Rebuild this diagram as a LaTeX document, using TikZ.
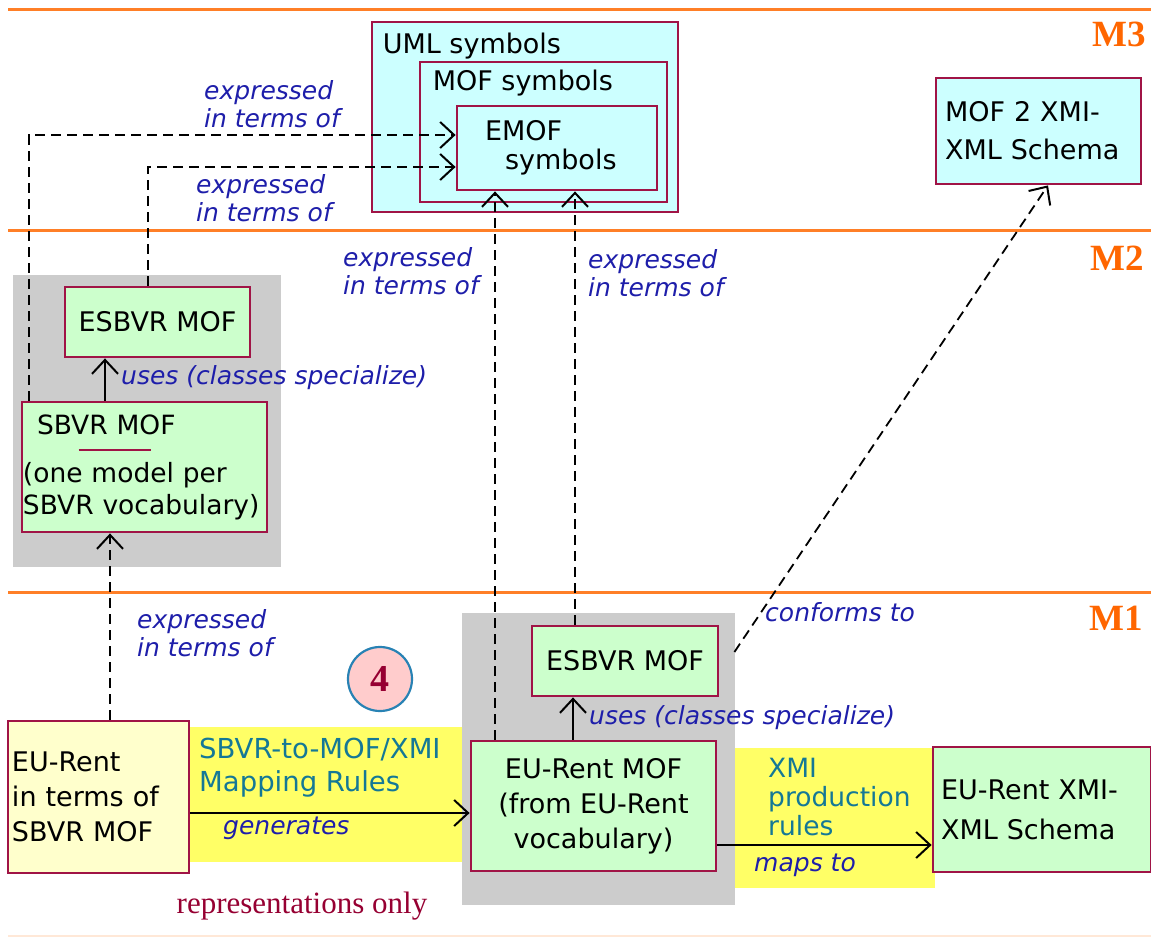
\documentclass[tikz,border=0pt]{standalone}
\usepackage{fontspec}
\setmainfont{DejaVu Sans}
\newfontfamily\serfont{Liberation Serif}
\usetikzlibrary{arrows.meta}
\definecolor{orangeline}{RGB}{255,127,39}
\definecolor{morange}{RGB}{255,102,0}
\definecolor{boxred}{RGB}{160,20,70}
\definecolor{lgreen}{RGB}{204,255,204}
\definecolor{lcyan}{RGB}{204,255,255}
\definecolor{lyellow}{RGB}{255,255,204}
\definecolor{band}{RGB}{255,255,102}
\definecolor{grayreg}{RGB}{204,204,204}
\definecolor{lblue}{RGB}{30,30,170}
\definecolor{tealtext}{RGB}{20,120,150}
\definecolor{dred}{RGB}{150,0,50}
\definecolor{cpink}{RGB}{255,204,204}
\definecolor{cblue}{RGB}{40,130,180}
\definecolor{faint}{RGB}{255,232,215}
\begin{document}
\begin{tikzpicture}[x=1pt,y=-1pt,
  box/.style={draw=boxred, line width=2.8pt, inner sep=0pt, font=\fontsize{27}{35}\selectfont},
  arr/.style={line width=2.2pt, -{Straight Barb[length=14pt,width=26pt,line width=2pt]}},
  darr/.style={arr, dash pattern=on 10pt off 6pt},
  lab/.style={text=lblue, font=\fontsize{25}{28}\selectfont\itshape, align=left, inner sep=0pt, anchor=west},
  rulelab/.style={text=tealtext, font=\fontsize{27.5}{33}\selectfont, align=left, inner sep=0pt, anchor=west},
  level/.style={draw=orangeline, line width=3pt},
  mlab/.style={text=morange, font=\serfont\bfseries\fontsize{37}{37}\selectfont, inner sep=0pt},
  region/.style={fill=grayreg, draw=none},
  bandfill/.style={fill=band, draw=none}
]
\useasboundingbox (0,0) rectangle (1151,937);

% level lines
\draw[level] (8,9) -- (1151,9);
\draw[level] (8,230) -- (1151,230);
\draw[level] (8,592) -- (1151,592);
\draw[draw=faint, line width=1.5pt] (8,936) -- (1151,936);
\node[mlab] (m3) at (1119,34) {M3};
\node[mlab] (m2) at (1117,258) {M2};
\node[mlab] (m1) at (1116,618) {M1};

% backgrounds
\fill[bandfill] (189,727) rectangle (462,862);
\fill[bandfill] (735,748) rectangle (935,888);
\fill[region] (13,275) rectangle (281,567);
\fill[region] (462,613) rectangle (735,905);

% M3 boxes
\node[box, fill=lcyan, minimum width=306pt, minimum height=190pt,
  label={[anchor=north west, inner sep=0pt, xshift=12pt, yshift=-12pt, font=\fontsize{27}{30}\selectfont]north west:UML symbols}] (uml) at (525,117) {};
\node[box, fill=lcyan, minimum width=247pt, minimum height=140pt,
  label={[anchor=north west, inner sep=0pt, xshift=14pt, yshift=-9pt, font=\fontsize{27}{30}\selectfont]north west:MOF symbols}] (mof) at (543.5,132) {};
\node[box, fill=lcyan, minimum width=200pt, minimum height=84pt, text width=144pt, inner xsep=27pt, align=left, font=\fontsize{27}{29}\selectfont] (emof) at (557,148) {EMOF\\\hspace*{20pt}symbols};
\node[box, fill=lcyan, minimum width=205pt, minimum height=106pt, text width=187pt, inner xsep=9pt, align=left, font=\fontsize{27}{38}\selectfont] (mofxmi) at (1038.5,131) {MOF 2 XMI-\\XML Schema};

% M2 boxes
\node[box, fill=lgreen, minimum width=185pt, minimum height=70pt] (esbvrA) at (157.5,322) {ESBVR MOF};
\node[box, fill=lgreen, minimum width=245pt, minimum height=130pt, text width=243pt, inner xsep=1pt, align=left, font=\fontsize{26.5}{32}\selectfont] (sbvr) at (144.5,467) {\hspace*{14pt}SBVR MOF\\[16pt](one model per\\SBVR vocabulary)};
\draw[draw=boxred, line width=2.2pt] ([shift={(58pt,-49pt)}]sbvr.north west) -- ++(72,0);

% M1 boxes
\node[box, fill=lyellow, minimum width=181pt, minimum height=152pt, text width=173pt, inner xsep=4pt, align=left] (eurent) at (98.5,797) {EU-Rent\\in terms of\\SBVR MOF};
\node[box, fill=lgreen, minimum width=186pt, minimum height=70pt] (esbvrB) at (625,661) {ESBVR MOF};
\node[box, fill=lgreen, minimum width=245pt, minimum height=130pt, align=center] (eumof) at (593.5,806) {EU-Rent MOF\\(from EU-Rent\\vocabulary)};
\node[box, fill=lgreen, minimum width=218pt, minimum height=125pt, text width=202pt, inner xsep=8pt, align=left, font=\fontsize{27}{40}\selectfont] (xmi) at (1042,809.5) {EU-Rent XMI-\\XML Schema};

\node[circle, draw=cblue, fill=cpink, line width=2.2pt, minimum size=64pt, inner sep=0pt, text=dred, font=\serfont\bfseries\fontsize{38}{38}\selectfont] (four) at (380,679) {4};

% connectors
\draw[darr] ([xshift=8pt]sbvr.north west) |- ([yshift=13pt]emof.west);
\draw[darr] ([xshift=-9.5pt]esbvrA.north) |- ([yshift=-19pt]emof.west);
\draw[arr] ([xshift=-39.5pt]sbvr.north) -- ([xshift=-39.5pt]sbvr.north |- esbvrA.south);
\draw[darr] ([xshift=11.5pt]eurent.north) -- ([xshift=11.5pt]eurent.north |- sbvr.south);
\draw[darr] ([xshift=-98.5pt]eumof.north) -- ([xshift=-98.5pt]eumof.north |- emof.south);
\draw[darr] ([xshift=-50pt]esbvrB.north) -- ([xshift=-50pt]esbvrB.north |- emof.south);
\draw[arr] ([xshift=-20.5pt]eumof.north) -- ([xshift=-20.5pt]eumof.north |- esbvrB.south);
\draw[darr, line width=1.8pt] ([shift={(15pt,9pt)}]esbvrB.east) -- ([xshift=9.5pt]mofxmi.south);
\draw[arr] ([yshift=-16pt]eurent.east) -- ([yshift=-16pt]eurent.east -| eumof.west);
\draw[arr] ([yshift=-39pt]eumof.east) -- ([yshift=-39pt]eumof.east -| xmi.west);

% labels
\node[lab] (l1) at (204,104) {expressed\\in terms of};
\node[lab] (l2) at (196,198) {expressed\\in terms of};
\node[lab] (l3) at (343,271) {expressed\\in terms of};
\node[lab] (l4) at (588,273) {expressed\\in terms of};
\node[lab] (l5) at (121,378) {uses (classes specialize)};
\node[lab] (l6) at (137,633) {expressed\\in terms of};
\node[lab] (l7) at (765,612) {conforms to};
\node[lab] (l8) at (589,718) {uses (classes specialize)};
\node[lab] (l9) at (223,828) {generates};
\node[lab] (l10) at (754,865) {maps to};
\node[rulelab] (r1) at (199,768) {SBVR-to-MOF/XMI\\Mapping Rules};
\node[rulelab, font=\fontsize{26.5}{29}\selectfont] (r2) at (768,797) {XMI\\production\\rules};
\node[text=dred, font=\serfont\fontsize{31}{31}\selectfont, inner sep=0pt] (repr) at (302,906) {representations only};
\end{tikzpicture}
\end{document}
